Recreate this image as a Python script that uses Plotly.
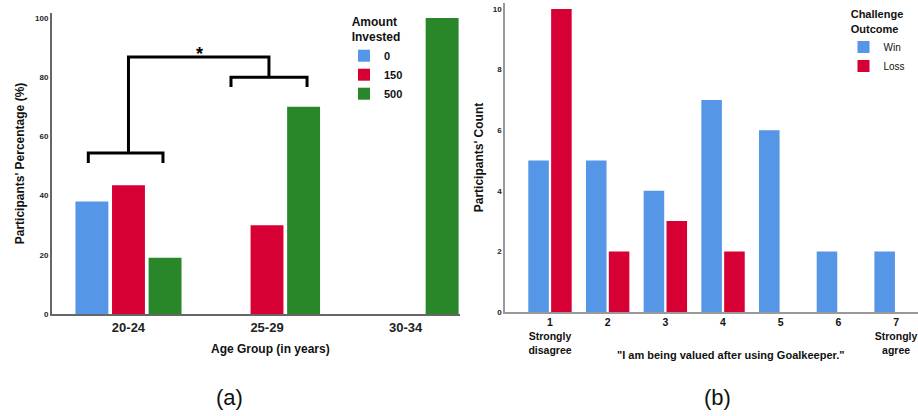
import plotly.graph_objects as go

# ---- Panel (a) data ----
age_groups = ["20-24", "25-29", "30-34"]
amount_labels = ["0", "150", "500"]
pct_0 = [38, 0, 0]
pct_150 = [43.5, 30, 0]
pct_500 = [19, 70, 100]

# ---- Panel (b) data ----
likert = [1, 2, 3, 4, 5, 6, 7]
likert_ticks = ["1<br>Strongly<br>disagree", "2", "3", "4", "5", "6", "7<br>Strongly<br>agree"]
win_counts = [5, 5, 4, 7, 6, 2, 2]
loss_counts = [10, 2, 3, 2, 0, 0, 0]

BLUE = "#5596E6"
RED = "#D70034"
GREEN = "#2A8729"
FONT = "Liberation Sans"

W, H = 918, 416

def py(p):
    return 1 - p / H

def px(p):
    return p / W

fig = go.Figure()

for name, vals, col in zip(amount_labels, [pct_0, pct_150, pct_500], [BLUE, RED, GREEN]):
    fig.add_trace(go.Bar(x=age_groups, y=vals, name=name, marker_color=col,
                         marker_line_width=0, xaxis="x", yaxis="y",
                         legend="legend", offsetgroup=name))

for name, vals, col in zip(["Win", "Loss"], [win_counts, loss_counts], [BLUE, RED]):
    fig.add_trace(go.Bar(x=likert, y=vals, name=name, marker_color=col,
                         marker_line_width=0,
                         xaxis="x2", yaxis="y2", legend="legend2", offsetgroup=name))

axis_common = dict(showgrid=False, zeroline=False, ticks="", showline=True, automargin=False)

fig.update_layout(
    width=W, height=H,
    margin=dict(l=0, r=0, t=0, b=0, autoexpand=False),
    paper_bgcolor="white", plot_bgcolor="white",
    barmode="group", bargap=0.208, bargroupgap=0.1,
    font=dict(family=FONT, color="#111", size=11),
    xaxis=dict(domain=[px(52), px(460)], range=[-0.552, 2.393], anchor="y",
               tickfont=dict(size=13, weight="bold", color="#222"),
               linecolor="#666", linewidth=2, **axis_common),
    yaxis=dict(domain=[py(314), py(13)], range=[0, 101.69], anchor="x",
               tickvals=[0, 20, 40, 60, 80, 100],
               tickfont=dict(size=8, weight="bold", color="#222"),
               linecolor="#666", linewidth=2,
               title=dict(text="Participants' Percentage (%)", standoff=8,
                          font=dict(size=12, weight="bold", color="#111")),
               **axis_common),
    xaxis2=dict(domain=[px(505), 1.0], range=[0.22, 7.38], anchor="y2",
                tickvals=likert, ticktext=likert_ticks,
                tickfont=dict(size=10.5, weight="bold", color="#111"),
                linecolor="#999", linewidth=1.5, **axis_common),
    yaxis2=dict(domain=[py(312), py(3)], range=[0, 10.2], anchor="x2",
                tickvals=[0, 2, 4, 6, 8, 10],
                tickfont=dict(size=8, weight="bold", color="#222"),
                linecolor="#999", linewidth=1.5,
                title=dict(text="Participants' Count", standoff=7,
                           font=dict(size=12, weight="bold", color="#111")),
                **axis_common),
    legend=dict(title=dict(text="Amount<br>Invested", side="top center",
                           font=dict(size=12, weight="bold")),
                x=px(376), xanchor="center", y=py(10), yanchor="top",
                font=dict(size=11, weight="bold"), bgcolor="rgba(0,0,0,0)",
                itemwidth=30, tracegroupgap=0),
    legend2=dict(title=dict(text="Challenge<br>Outcome", side="top center",
                            font=dict(size=11, weight="bold")),
                 x=px(877), xanchor="center", y=py(4), yanchor="top",
                 font=dict(size=10), bgcolor="rgba(0,0,0,0)",
                 itemwidth=30, tracegroupgap=0),
    showlegend=True,
)

# significance brackets (data coordinates of panel a)
bracket_style = dict(color="black", width=3)
fig.add_shape(type="path", xref="x", yref="y", line=bracket_style,
              path="M -0.29,51 L -0.29,54.4 L 0.249,54.4 L 0.249,51")
fig.add_shape(type="path", xref="x", yref="y", line=bracket_style,
              path="M 0.74,76.7 L 0.74,80 L 1.289,80 L 1.289,76.7")
fig.add_shape(type="path", xref="x", yref="y", line=bracket_style,
              path="M 0,54.4 L 0,86.8 L 1.014,86.8 L 1.014,80")

ann = dict(xref="paper", yref="paper", showarrow=False, xanchor="center", yanchor="middle")
annotations = [
    dict(text="*", x=0.516, y=88, xref="x", yref="y", showarrow=False,
         xanchor="center", yanchor="middle", font=dict(size=18, weight="bold", color="black")),
    dict(text="Age Group (in years)", x=px(270), y=py(349),
         font=dict(size=12, weight="bold", color="#111"), **ann),
    dict(text='"I am being valued after using Goalkeeper."', x=px(730), y=py(355),
         font=dict(size=11, weight="bold", color="#111"), **ann),
    dict(text="(a)", x=px(230), y=py(397), font=dict(size=22, color="#111"), **ann),
    dict(text="(b)", x=px(717), y=py(397), font=dict(size=22, color="#111"), **ann),
]
fig.update_layout(annotations=annotations)

fig.write_html("out.html", config={"displayModeBar": False},
               post_script="document.body.style.margin='0px';")
